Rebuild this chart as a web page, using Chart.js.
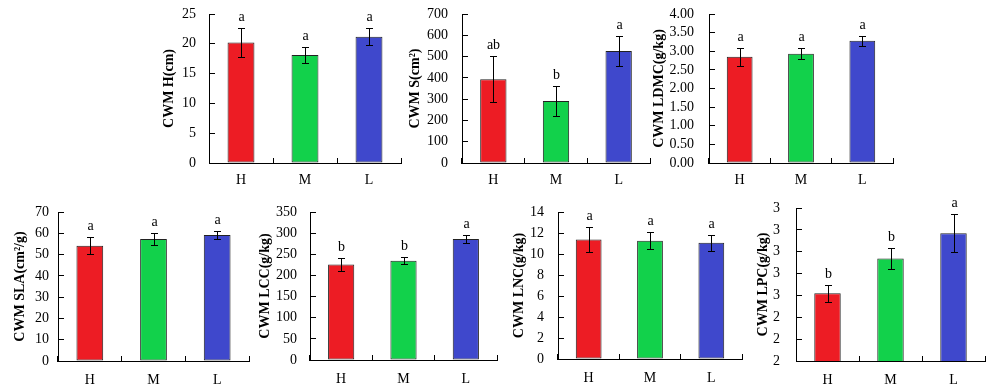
<!DOCTYPE html>
<html>
<head>
<meta charset="utf-8">
<script src="https://cdn.jsdelivr.net/npm/chart.js@4.4.0/dist/chart.umd.min.js"></script>
<style>
    html, body { margin: 0; padding: 0; background: #fff; }
    #board { position: relative; width: 1000px; height: 392px; overflow: hidden; background: #fff; }
    #board canvas { position: absolute; }
</style>
</head>
<body>
<div id="board"></div>
<script>
"use strict";

const groups = ["H", "M", "L"];
const barColors = ["#ED1C24", "#12D14B", "#3F48CC"];

// CWM H (cm)
const heightMean = [20.2, 18.1, 21.2];
const heightErr = [2.45, 1.3, 1.4];
const heightLetters = ["a", "a", "a"];

// CWM S (cm2)
const areaMean = [394, 291, 526];
const areaErr = [108, 69, 70];
const areaLetters = ["ab", "b", "a"];

// CWM LDMC (g/kg)
const ldmcMean = [2.85, 2.93, 3.28];
const ldmcErr = [0.25, 0.15, 0.14];
const ldmcLetters = ["a", "a", "a"];

// CWM SLA (cm2/g)
const slaMean = [54.1, 57.3, 59.2];
const slaErr = [4.0, 2.7, 2.0];
const slaLetters = ["a", "a", "a"];

// CWM LCC (g/kg)
const lccMean = [225.8, 235, 286];
const lccErr = [15.5, 8.3, 8.5];
const lccLetters = ["b", "b", "a"];

// CWM LNC (g/kg)
const lncMean = [11.38, 11.27, 11.08];
const lncErr = [1.21, 0.79, 0.75];
const lncLetters = ["a", "a", "a"];

// CWM LPC (g/kg)
const lpcMean = [2.51, 2.669, 2.785];
const lpcErr = [0.039, 0.0475, 0.0885];
const lpcLetters = ["b", "b", "a"];

// y ticks per panel
const heightTicks = [0, 5, 10, 15, 20, 25];
const areaTicks = [0, 100, 200, 300, 400, 500, 600, 700];
const ldmcTicks = [0, 0.5, 1, 1.5, 2, 2.5, 3, 3.5, 4];
const slaTicks = [0, 10, 20, 30, 40, 50, 60, 70];
const lccTicks = [0, 50, 100, 150, 200, 250, 300, 350];
const lncTicks = [0, 2, 4, 6, 8, 10, 12, 14];
const lpcTicks = [2.2, 2.3, 2.4, 2.5, 2.6, 2.7, 2.8, 2.9];

const FONT = "'Liberation Serif', 'Times New Roman', serif";

// layout: canvas box [left, top, width, height], y-axis x, plot top/bottom/right, label gaps
const panels = [
    {title: "CWM H(cm)", mean: heightMean, err: heightErr, letters: heightLetters, ticks: heightTicks, digits: 0,
        box: [161, 0, 245, 195], axisX: 209, top: 14, bottom: 163, right: 401, gap: 13, xPad: 14},
    {title: "CWM S(cm\u00B2)", mean: areaMean, err: areaErr, letters: areaLetters, ticks: areaTicks, digits: 0,
        box: [407, 0, 249, 195], axisX: 462, top: 14, bottom: 163, right: 650, gap: 14, xPad: 14},
    {title: "CWM LDMC(g/kg)", mean: ldmcMean, err: ldmcErr, letters: ldmcLetters, ticks: ldmcTicks, digits: 2,
        box: [651, 0, 247, 195], axisX: 709, top: 14, bottom: 163, right: 893, gap: 15, xPad: 14},
    {title: "CWM SLA(cm\u00B2/g)", mean: slaMean, err: slaErr, letters: slaLetters, ticks: slaTicks, digits: 0,
        box: [12, 195, 241, 197], axisX: 58, top: 212, bottom: 361, right: 249, gap: 9, xPad: 16},
    {title: "CWM LCC(g/kg)", mean: lccMean, err: lccErr, letters: lccLetters, ticks: lccTicks, digits: 0,
        box: [257, 195, 244, 197], axisX: 310, top: 212, bottom: 360, right: 497, gap: 13, xPad: 16},
    {title: "CWM LNC(g/kg)", mean: lncMean, err: lncErr, letters: lncLetters, ticks: lncTicks, digits: 0,
        box: [511, 195, 237, 197], axisX: 558, top: 212, bottom: 359, right: 742, gap: 14, xPad: 16},
    {title: "CWM LPC(g/kg)", mean: lpcMean, err: lpcErr, letters: lpcLetters, ticks: lpcTicks, digits: 0,
        box: [755, 195, 234, 197], axisX: 796, top: 208, bottom: 361, right: 985, gap: 16, xPad: 16}
];

const errorBars = {
    id: "errorBars",
    afterDatasetsDraw(chart, args, opts) {
        const ctx = chart.ctx;
        const yScale = chart.scales.y;
        const meta = chart.getDatasetMeta(0);
        const values = chart.data.datasets[0].data;

        ctx.save();
        ctx.strokeStyle = "#000";
        ctx.lineWidth = 1;
        ctx.fillStyle = "#000";
        ctx.font = `14px ${FONT}`;
        ctx.textAlign = "center";
        ctx.textBaseline = "alphabetic";

        meta.data.forEach(function (bar, i) {
            const x = Math.round(bar.x) + 0.5;
            const yTop = Math.round(yScale.getPixelForValue(values[i] + opts.err[i])) + 0.5;
            const yBot = Math.round(yScale.getPixelForValue(values[i] - opts.err[i])) + 0.5;
            ctx.beginPath();
            ctx.moveTo(x, yTop);
            ctx.lineTo(x, yBot);
            ctx.moveTo(x - 3.5, yTop);
            ctx.lineTo(x + 3.5, yTop);
            ctx.moveTo(x - 3.5, yBot);
            ctx.lineTo(x + 3.5, yBot);
            ctx.stroke();
            ctx.fillText(opts.letters[i], x, yTop - 8);
        });
        ctx.restore();
    }
};

const board = document.getElementById("board");

panels.forEach(function (p) {
    const [left, top, width, height] = p.box;
    const canvas = document.createElement("canvas");
    canvas.width = width;
    canvas.height = height;
    canvas.style.left = left + "px";
    canvas.style.top = top + "px";
    canvas.style.width = width + "px";
    canvas.style.height = height + "px";
    board.appendChild(canvas);

    new Chart(canvas.getContext("2d"), {
        type: "bar",
        data: {
            labels: groups,
            datasets: [{
                data: p.mean,
                backgroundColor: barColors,
                borderColor: "#222",
                borderWidth: 1,
                borderSkipped: false,
                categoryPercentage: 1,
                barPercentage: 0.42
            }]
        },
        options: {
            responsive: false,
            animation: false,
            devicePixelRatio: 1,
            layout: {
                padding: {left: 0, top: p.top - top, right: left + width - p.right, bottom: 0}
            },
            plugins: {
                legend: {display: false},
                tooltip: {enabled: false},
                errorBars: {err: p.err, letters: p.letters}
            },
            scales: {
                x: {
                    grid: {display: true, drawOnChartArea: false, drawTicks: true, tickLength: -5, color: "#000", offset: true},
                    border: {display: true, color: "#000", width: 1},
                    ticks: {color: "#000", font: {family: FONT, size: 14}, padding: p.xPad, autoSkip: false, maxRotation: 0},
                    afterFit: function (scale) {
                        scale.height = top + height - p.bottom;
                        scale.paddingLeft = 0;
                        scale.paddingRight = 0;
                    }
                },
                y: {
                    min: p.ticks[0],
                    max: p.ticks[p.ticks.length - 1],
                    grid: {display: true, drawOnChartArea: false, drawTicks: true, tickLength: -6, color: "#000"},
                    border: {display: true, color: "#000", width: 1},
                    ticks: {
                        color: "#000",
                        font: {family: FONT, size: 14},
                        padding: p.gap + 6,
                        autoSkip: false,
                        callback: function (value) { return Number(value).toFixed(p.digits); }
                    },
                    afterBuildTicks: function (scale) {
                        scale.ticks = p.ticks.map(v => ({value: v}));
                    },
                    title: {
                        display: true,
                        text: p.title,
                        color: "#000",
                        font: {family: FONT, size: 14, weight: "bold"},
                        padding: {top: 0, bottom: 0}
                    },
                    afterFit: function (scale) {
                        scale.width = p.axisX - left;
                        scale.paddingTop = 0;
                        scale.paddingBottom = 0;
                    }
                }
            }
        },
        plugins: [errorBars]
    });
});
</script>
</body>
</html>
